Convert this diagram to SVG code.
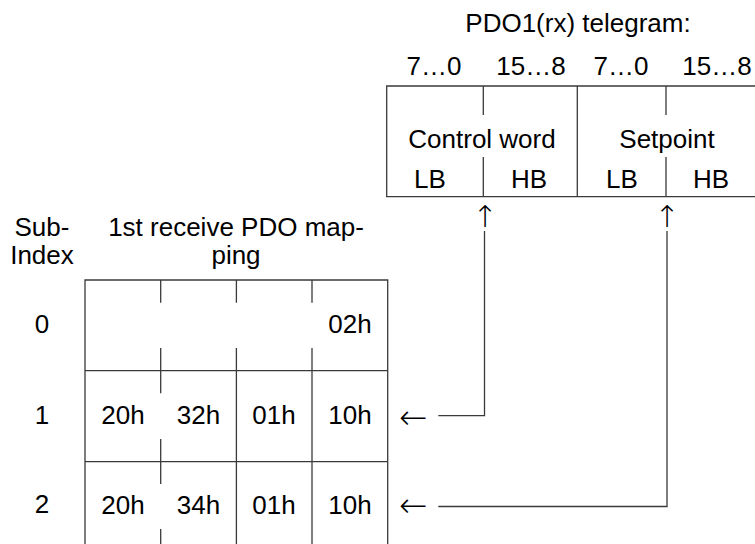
<svg xmlns="http://www.w3.org/2000/svg" width="755" height="544" viewBox="0 0 755 544">
<style>
text{font-family:"Liberation Sans",Arial,sans-serif;font-size:26px;fill:#000;text-anchor:middle}
.ln{stroke:#3a3a3a;stroke-width:1.3;fill:none}
.ar{font-family:"DejaVu Sans",sans-serif;font-size:34px;font-weight:200}
.au{font-family:"DejaVu Sans",sans-serif;font-size:30px;font-weight:200}
</style>
<rect width="755" height="544" fill="#fff"/>
<g id="telegram">
<text x="578" y="32">PDO1(rx) telegram:</text>
<text x="434" y="75">7…0</text>
<text x="531" y="75">15…8</text>
<text x="621" y="75">7…0</text>
<text x="717" y="75">15…8</text>
<path class="ln" d="M770 86H386.7V196.7H770M483.3 86V115M483.3 157V196.7M577.3 86V196.7M666 86V115M666 157V196.7"/>
<text x="482" y="148">Control word</text>
<text x="667" y="148">Setpoint</text>
<text x="430" y="188">LB</text>
<text x="529" y="188">HB</text>
<text x="622" y="188">LB</text>
<text x="711" y="188">HB</text>
</g>
<g id="subindex">
<text x="42" y="236">Sub-</text>
<text x="42" y="264">Index</text>
<text x="42" y="333">0</text>
<text x="42" y="424">1</text>
<text x="42" y="513">2</text>
</g>
<g id="mapping">
<text x="236" y="236">1st receive PDO map-</text>
<text x="236" y="264">ping</text>
<path class="ln" d="M85 552V280H387.7V552M85 370.7H387.7M85 461.7H387.7M160.7 280V302.7M160.7 348V393.3M160.7 439V484M160.7 529V552M236.4 280V302.7M236.4 348V552M312 280V302.7M312 348V552"/>
<text x="350" y="333">02h</text>
<text x="123" y="424">20h</text>
<text x="198.5" y="424">32h</text>
<text x="274" y="424">01h</text>
<text x="350" y="424">10h</text>
<text x="123" y="514">20h</text>
<text x="198.5" y="514">34h</text>
<text x="274" y="514">01h</text>
<text x="350" y="514">10h</text>
</g>
<g id="connectors">
<path class="ln" d="M438.3 415.7H484.5V231M438.3 506.5H667V231"/>
<text class="ar" x="413" y="429">←</text>
<text class="ar" x="413" y="517">←</text>
<text class="au" x="485" y="227">↑</text>
<text class="au" x="667" y="227">↑</text>
</g>
</svg>
